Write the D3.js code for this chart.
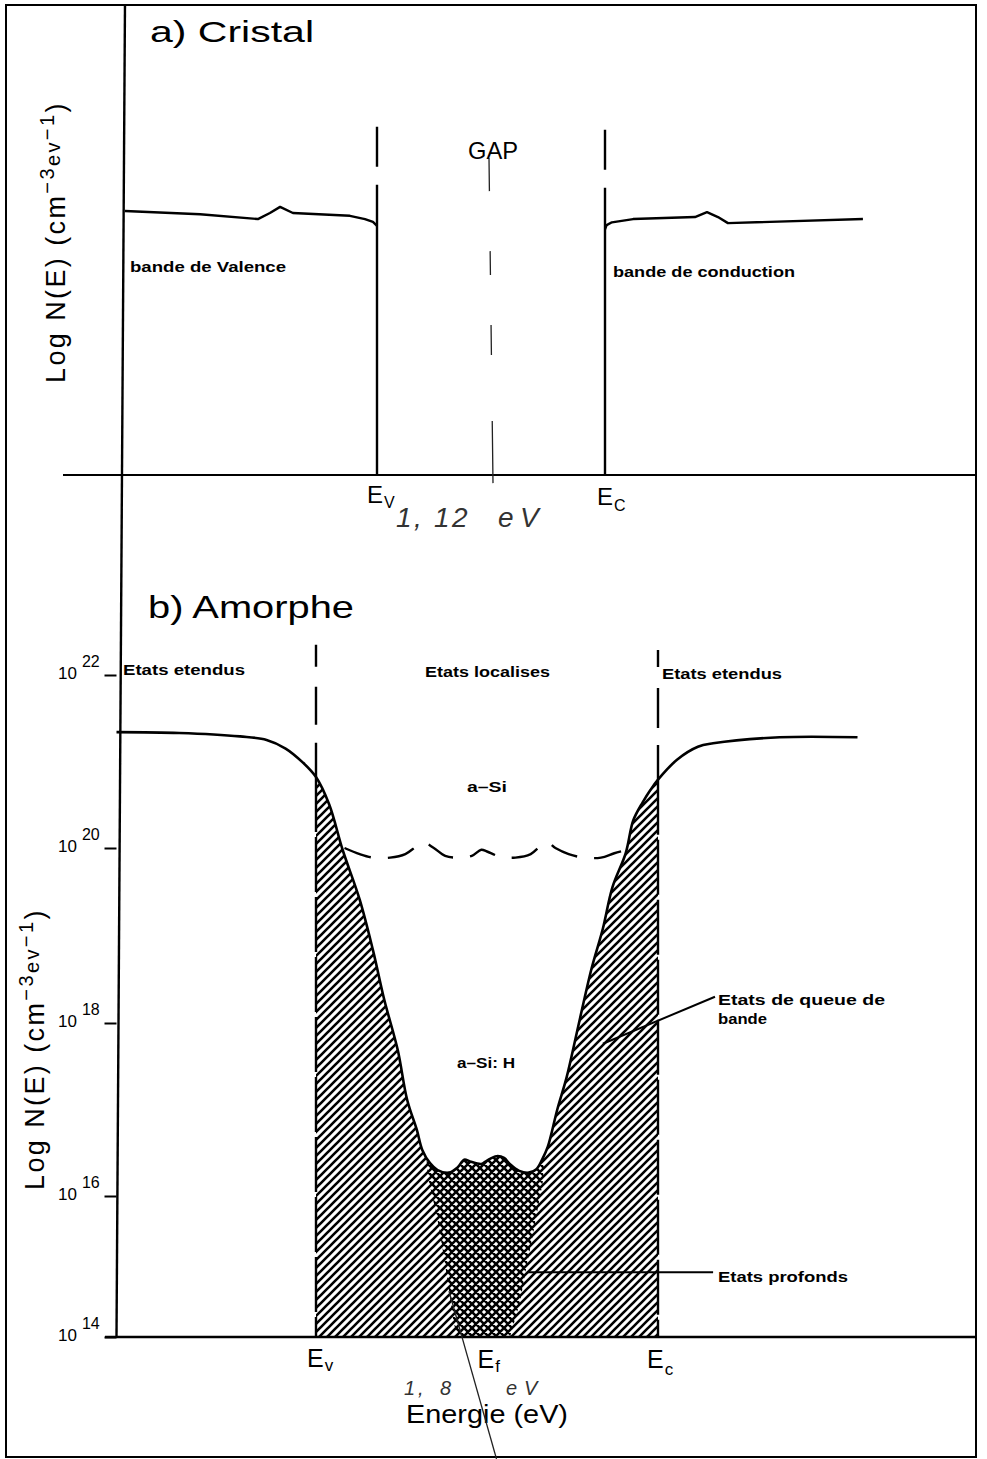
<!DOCTYPE html>
<html>
<head>
<meta charset="utf-8">
<script src="https://cdn.jsdelivr.net/npm/d3@7"></script>
<style>
body { margin: 0; background: #fff; }
text { font-family: "Liberation Sans", Arial, sans-serif; fill: #000; }
</style>
</head>
<body>
<script>
/* Densite d'etats : a) Cristal, b) Amorphe
 * energie en eV (Ev = 0), log N(E) en cm-3 eV-1
 */
var W = 987, H = 1459;

// ---- a) Cristal ----
var gapCristal = 1.12;
var valenceCristal = [
	[-1.238, 20.50], [-0.869, 20.42], [-0.585, 20.30], [-0.526, 20.45],
	[-0.476, 20.60], [-0.413, 20.45], [-0.133, 20.38], [-0.059, 20.30],
	[-0.020, 20.23], [0, 20.13]
];
var conductionCristal = [
	[1.12, 20.05], [1.128, 20.15], [1.154, 20.22], [1.258, 20.30],
	[1.562, 20.35], [1.621, 20.47], [1.675, 20.35], [1.724, 20.20],
	[2.387, 20.30]
];
var bordsCristal = [
	{E: 0, top: 22.57, dash: "40,18,400"},
	{E: 1.12, top: 22.50, dash: "40,18,400"}
];

// ---- b) Amorphe ----
var gapAmorphe = 1.8;
var efAmorphe = 0.85;
var logTicks = [14, 16, 18, 20, 22];
// a-Si:H, densite totale
var dosAmorphe = [
	[-1.05, 21.34], [-0.72, 21.33], [-0.40, 21.29], [-0.26, 21.25],
	[-0.16, 21.15], [-0.07, 20.99], [0.00, 20.82], [0.07, 20.50],
	[0.14, 19.98], [0.23, 19.41], [0.30, 18.83], [0.36, 18.26],
	[0.43, 17.69], [0.48, 17.11], [0.53, 16.77], [0.56, 16.53],
	[0.60, 16.38], [0.64, 16.30], [0.70, 16.27], [0.745, 16.33],
	[0.78, 16.42], [0.81, 16.40], [0.87, 16.37], [0.90, 16.41],
	[0.95, 16.46], [0.99, 16.44], [1.02, 16.37], [1.07, 16.29],
	[1.12, 16.27], [1.16, 16.31], [1.19, 16.42], [1.22, 16.57],
	[1.27, 17.00], [1.32, 17.38], [1.38, 17.96], [1.45, 18.62],
	[1.51, 19.08], [1.56, 19.55], [1.63, 19.94], [1.67, 20.32],
	[1.72, 20.53], [1.76, 20.67], [1.80, 20.79], [1.90, 21.02],
	[2.01, 21.17], [2.09, 21.21], [2.44, 21.28], [2.85, 21.28]
];
// a-Si (non hydrogene), trait tirete
var dosASi = [
	[0.15, 20.00], [0.23, 19.93], [0.30, 19.89], [0.39, 19.89],
	[0.47, 19.93], [0.53, 20.02], [0.57, 20.06], [0.62, 20.00],
	[0.68, 19.91], [0.75, 19.89], [0.82, 19.91], [0.87, 19.98],
	[0.90, 19.96], [0.97, 19.90], [1.05, 19.89], [1.13, 19.93],
	[1.18, 20.02], [1.22, 20.06], [1.26, 20.00], [1.33, 19.93],
	[1.41, 19.89], [1.50, 19.89], [1.57, 19.94], [1.64, 19.98]
];
// etats profonds (zone quadrillee)
var profondsGauche = [
	[0.742, 14.0], [0.721, 14.26], [0.695, 14.75], [0.668, 15.22],
	[0.637, 15.70], [0.589, 16.22], [0.575, 16.60]
];
var profondsDroite = [
	[1.205, 16.60], [1.195, 16.18], [1.143, 15.47], [1.100, 14.89],
	[1.074, 14.50], [1.021, 14.0]
];
var bordsAmorphe = [
	{E: 0, top: 22.35, dash: "22,20,38,18,80"},
	{E: 1.8, top: 22.29, dash: "17,21,40,17,80"}
];
// annotations
var queueFleche = [[2.10, 18.30], [1.51, 17.76]];
var profondsFleche = [[1.11, 14.92], [2.09, 14.92]];

var svg = d3.select("body").append("svg")
	.attr("width", W)
	.attr("height", H);

var defs = svg.append("defs");
var hatch = defs.append("pattern")
	.attr("id", "hatch")
	.attr("patternUnits", "userSpaceOnUse")
	.attr("width", 8).attr("height", 8);
hatch.append("rect").attr("width", 8).attr("height", 8).attr("fill", "#fff");
hatch.append("path")
	.attr("d", "M-1,1 l2,-2 M0,8 l8,-8 M7,9 l2,-2")
	.attr("stroke", "#000").attr("stroke-width", 2.6);
var cross = defs.append("pattern")
	.attr("id", "cross")
	.attr("patternUnits", "userSpaceOnUse")
	.attr("width", 8).attr("height", 8);
cross.append("rect").attr("width", 8).attr("height", 8).attr("fill", "#fff");
cross.append("path")
	.attr("d", "M-1,1 l2,-2 M0,8 l8,-8 M7,9 l2,-2 M-1,7 l2,2 M0,0 l8,8 M7,-1 l2,2")
	.attr("stroke", "#000").attr("stroke-width", 2.6);

function label(x, y, txt, size, len, weight) {
	var t = svg.append("text")
		.attr("x", x).attr("y", y)
		.style("font-size", size + "px")
		.style("font-weight", weight || "normal")
		.text(txt);
	if (len) t.attr("textLength", len).attr("lengthAdjust", "spacingAndGlyphs");
	return t;
}

// cadre
svg.append("rect")
	.attr("x", 6).attr("y", 5)
	.attr("width", 970).attr("height", 1452)
	.attr("fill", "none").attr("stroke", "#000").attr("stroke-width", 2);

/* ===== a) Cristal ===== */
var xT = d3.scaleLinear().domain([0, gapCristal]).range([377, 605]);
var yT = d3.scaleLinear().domain([14, 22]).range([475, 150]);
var lineT = d3.line().x(function(d) { return xT(d[0]); }).y(function(d) { return yT(d[1]); });

svg.append("line")
	.attr("x1", 63).attr("x2", 975)
	.attr("y1", yT(14)).attr("y2", yT(14))
	.attr("stroke", "#000").attr("stroke-width", 2.2);

svg.selectAll(".bordT")
	.data(bordsCristal)
	.enter().append("line")
		.attr("class", "bordT")
		.attr("x1", function(d) { return xT(d.E); })
		.attr("x2", function(d) { return xT(d.E); })
		.attr("y1", function(d) { return yT(d.top); })
		.attr("y2", yT(14))
		.attr("stroke", "#000").attr("stroke-width", 2.4)
		.attr("stroke-dasharray", function(d) { return d.dash; });

[valenceCristal, conductionCristal].forEach(function(s) {
	svg.append("path")
		.datum(s)
		.attr("d", lineT)
		.attr("fill", "none").attr("stroke", "#000")
		.attr("stroke-width", 2.4).attr("stroke-linejoin", "round");
});

// trait au crayon au milieu du gap
svg.append("line")
	.attr("x1", xT(gapCristal / 2) - 2).attr("x2", xT(gapCristal / 2) + 2)
	.attr("y1", yT(21.8)).attr("y2", yT(13.8))
	.attr("stroke", "#222").attr("stroke-width", 1.3)
	.attr("stroke-dasharray", "33,60,24,50,30,66,70");

label(150, 42, "a)  Cristal", 30, 164);
label(468, 159, "GAP", 24, 50);
label(130, 272, "bande de Valence", 15, 156, "bold");
label(613, 277, "bande de conduction", 15, 182, "bold");

var evT = label(367, 503, "E", 24);
evT.append("tspan").attr("dx", 1).attr("dy", 5).style("font-size", "16px").text("V");
var ecT = label(597, 505, "E", 24);
ecT.append("tspan").attr("dx", 1).attr("dy", 6).style("font-size", "16px").text("C");

function logLabel(t) {
	t.style("font-size", "27px").style("letter-spacing", "2.4px");
	t.append("tspan").text("Log N(E) (cm");
	t.append("tspan").attr("dy", -11).style("font-size", "20px").text("\u22123");
	t.append("tspan").attr("dy", 6).style("font-size", "20px").text("ev");
	t.append("tspan").attr("dy", -6).style("font-size", "20px").text("\u22121");
	t.append("tspan").attr("dy", 11).text(")");
}
logLabel(svg.append("text").attr("transform", "translate(65,383) rotate(-90)"));

// annotation manuscrite
svg.append("text")
	.attr("x", "396 414 434 452 480 498 520")
	.attr("y", 527)
	.style("font-size", "28px").style("font-style", "italic").style("font-weight", "300")
	.style("fill", "#333")
	.text("1,12 eV");

/* ===== b) Amorphe ===== */
var xB = d3.scaleLinear().domain([0, gapAmorphe]).range([316, 658]);
var yB = d3.scaleLinear().domain(logTicks).range([1337, 1196, 1023, 848, 675]);
var curve = d3.curveCatmullRom.alpha(0.5);
var lineB = d3.line().curve(curve)
	.x(function(d) { return xB(d[0]); })
	.y(function(d) { return yB(d[1]); });

var inGap = dosAmorphe.filter(function(d) { return d[0] >= 0 && d[0] <= gapAmorphe; });
var areaB = d3.area().curve(curve)
	.x(function(d) { return xB(d[0]); })
	.y0(yB(14))
	.y1(function(d) { return yB(d[1]); });

defs.append("clipPath").attr("id", "sousCourbe")
	.append("path").attr("d", areaB(inGap));

// queues de bande
svg.append("path")
	.attr("d", areaB(inGap))
	.attr("fill", "url(#hatch)");

// etats profonds
svg.append("path")
	.attr("d", d3.line().x(function(d) { return xB(d[0]); }).y(function(d) { return yB(d[1]); })(profondsGauche.concat(profondsDroite)) + "Z")
	.attr("fill", "url(#cross)")
	.attr("clip-path", "url(#sousCourbe)");

// bords Ev / Ec
var dosAt = function(E) {
	return inGap.filter(function(d) { return d[0] === E; })[0][1];
};
svg.selectAll(".bordB")
	.data(bordsAmorphe)
	.enter().append("line")
		.attr("class", "bordB")
		.attr("x1", function(d) { return xB(d.E); })
		.attr("x2", function(d) { return xB(d.E); })
		.attr("y1", function(d) { return yB(d.top); })
		.attr("y2", function(d) { return yB(dosAt(d.E)); })
		.attr("stroke", "#000").attr("stroke-width", 2.4)
		.attr("stroke-dasharray", function(d) { return d.dash; });
svg.selectAll(".bordBas")
	.data(bordsAmorphe)
	.enter().append("line")
		.attr("class", "bordBas")
		.attr("x1", function(d) { return xB(d.E); })
		.attr("x2", function(d) { return xB(d.E); })
		.attr("y1", function(d) { return yB(dosAt(d.E)); })
		.attr("y2", yB(14))
		.attr("stroke", "#000").attr("stroke-width", 2.4)
		.attr("stroke-dasharray", "55,5");

svg.append("path")
	.datum(dosASi)
	.attr("d", lineB)
	.attr("fill", "none").attr("stroke", "#000")
	.attr("stroke-width", 2.4)
	.attr("stroke-dasharray", "28,17");

svg.append("path")
	.datum(dosAmorphe)
	.attr("d", lineB)
	.attr("fill", "none").attr("stroke", "#000")
	.attr("stroke-width", 2.6);

// axes
svg.append("line")
	.attr("x1", xT(-1.238)).attr("y1", 5)
	.attr("x2", xB(-1.05)).attr("y2", yB(14))
	.attr("stroke", "#000").attr("stroke-width", 2.4);
svg.append("line")
	.attr("x1", 105).attr("x2", 975)
	.attr("y1", yB(14)).attr("y2", yB(14))
	.attr("stroke", "#000").attr("stroke-width", 2.4);

var yAxis = svg.append("g")
	.attr("transform", "translate(" + xB(-1.05) + ",0)")
	.call(d3.axisLeft(yB).tickValues(logTicks).tickSize(12).tickSizeOuter(0).tickFormat(""));
yAxis.select(".domain").remove();
yAxis.selectAll(".tick line").attr("stroke", "#000").attr("stroke-width", 2);

svg.selectAll(".tickLab")
	.data(logTicks)
	.enter().append("text")
		.attr("class", "tickLab")
		.attr("x", 58)
		.attr("y", function(d) { return yB(d) + 4; })
		.style("font-size", "17px")
		.each(function(d) {
			var t = d3.select(this);
			t.append("tspan").text("10");
			t.append("tspan").attr("dx", 5).attr("dy", -12).style("font-size", "16px").text(d);
		});

label(148, 618, "b)  Amorphe", 32, 206);
label(123, 675, "Etats etendus", 15, 122, "bold");
label(425, 677, "Etats localises", 15, 125, "bold");
label(662, 679, "Etats etendus", 15, 120, "bold");
label(467, 792, "a\u2013Si", 14, 40, "bold");
label(457, 1068, "a\u2013Si: H", 14, 58, "bold");

svg.append("path")
	.datum(queueFleche)
	.attr("d", d3.line().x(function(d) { return xB(d[0]); }).y(function(d) { return yB(d[1]); }))
	.attr("stroke", "#000").attr("stroke-width", 2);
label(718, 1005, "Etats de queue de", 15, 167, "bold");
label(718, 1024, "bande", 15, 49, "bold");
svg.append("path")
	.datum(profondsFleche)
	.attr("d", d3.line().x(function(d) { return xB(d[0]); }).y(function(d) { return yB(d[1]); }))
	.attr("stroke", "#000").attr("stroke-width", 2);
label(718, 1282, "Etats profonds", 15, 130, "bold");

var evB = label(307, 1367, "E", 25);
evB.append("tspan").attr("dx", 1).attr("dy", 4).style("font-size", "17px").text("v");
var efB = label(xB(efAmorphe), 1368, "E", 25);
efB.append("tspan").attr("dx", 1).attr("dy", 4).style("font-size", "17px").text("f");
var ecB = label(647, 1368, "E", 25);
ecB.append("tspan").attr("dx", 1).attr("dy", 7).style("font-size", "17px").text("c");

label(406, 1423, "Energie (eV)", 25, 162);

logLabel(svg.append("text").attr("transform", "translate(44,1190) rotate(-90)"));

// annotation manuscrite
svg.append("text")
	.attr("x", "404 418 440 466 506 524")
	.attr("y", 1395)
	.style("font-size", "20px").style("font-style", "italic").style("font-weight", "300")
	.style("fill", "#333")
	.text("1,8 eV");
svg.append("line")
	.attr("x1", xB(0.70)).attr("y1", yB(14.65))
	.attr("x2", xB(0.95)).attr("y2", H)
	.attr("stroke", "#222").attr("stroke-width", 1.3);
</script>
</body>
</html>
